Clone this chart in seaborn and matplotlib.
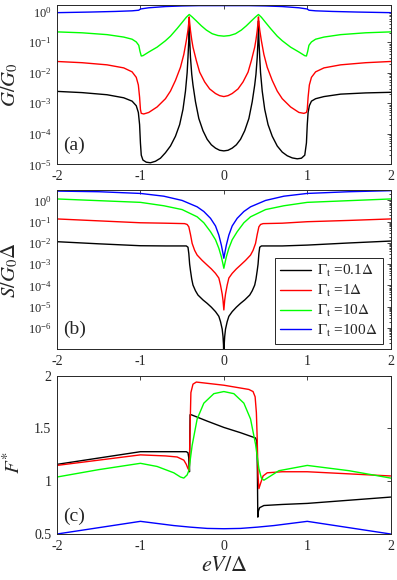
import numpy as np
import pandas as pd
import matplotlib
matplotlib.use("Agg")
import matplotlib.pyplot as plt
import seaborn as sns
from matplotlib.ticker import LogLocator, NullFormatter

# ---------------- data ----------------
gammas = ["0.1", "1", "10", "100"]
colors = ["#000000", "#ff0000", "#00ff00", "#0000ff"]
legend_labels = [r"$\Gamma_{\rm t}$ =0.1$\Delta$", r"$\Gamma_{\rm t}$ =1$\Delta$",
                 r"$\Gamma_{\rm t}$ =10$\Delta$", r"$\Gamma_{\rm t}$ =100$\Delta$"]
xticks = [-2, -1, 0, 1, 2]
xtick_labels = ["-2", "-1", "0", "1", "2"]

# panel (a): log10(G/G0)
a_x_k = [-2.0, -1.7, -1.4, -1.2, -1.1, -1.05, -1.025, -1.01, -1.0, -0.99, -0.97, -0.93, -0.88, -0.82, -0.76, -0.7, -0.64, -0.58, -0.53, -0.49, -0.46, -0.44, -0.43, -0.42, -0.415, -0.41, -0.40, -0.385, -0.37, -0.34, -0.3, -0.25, -0.2, -0.15, -0.1, -0.05, 0.0,
         0.05, 0.1, 0.15, 0.2, 0.25, 0.3, 0.34, 0.37, 0.385, 0.40, 0.41, 0.415, 0.42, 0.43, 0.44, 0.46, 0.49, 0.53, 0.58, 0.64, 0.7, 0.76, 0.82, 0.88, 0.93, 0.97, 0.99, 1.0, 1.01, 1.025, 1.05, 1.1, 1.2, 1.4, 1.7, 2.0]
a_y_k = [-2.61, -2.65, -2.72, -2.82, -2.93, -3.08, -3.3, -3.7, -4.3, -4.7, -4.86, -4.93, -4.95, -4.9, -4.8, -4.62, -4.4, -4.08, -3.7, -3.2, -2.6, -2.0, -1.5, -0.9, -0.3, -0.9, -1.5, -2.05, -2.4, -2.95, -3.5, -3.9, -4.18, -4.36, -4.47, -4.54, -4.56,
         -4.54, -4.47, -4.36, -4.18, -3.9, -3.5, -2.95, -2.4, -2.05, -1.5, -0.9, -0.3, -0.9, -1.5, -2.0, -2.6, -3.2, -3.7, -4.08, -4.4, -4.6, -4.72, -4.79, -4.82, -4.8, -4.7, -4.3, -3.7, -3.3, -3.08, -2.93, -2.85, -2.78, -2.7, -2.66, -2.64]
a_x_r = [-2.0, -1.7, -1.4, -1.2, -1.1, -1.05, -1.025, -1.01, -1.0, -0.99, -0.96, -0.9, -0.8, -0.7, -0.64, -0.58, -0.52, -0.48, -0.45, -0.43, -0.42, -0.415, -0.41, -0.40, -0.385, -0.37, -0.33, -0.29, -0.23, -0.17, -0.1, -0.05, 0.0,
         0.05, 0.1, 0.17, 0.23, 0.29, 0.33, 0.37, 0.385, 0.40, 0.41, 0.415, 0.42, 0.43, 0.45, 0.48, 0.52, 0.58, 0.64, 0.7, 0.8, 0.9, 0.96, 0.99, 1.0, 1.01, 1.025, 1.05, 1.1, 1.2, 1.4, 1.7, 2.0]
a_y_r = [-1.63, -1.67, -1.74, -1.84, -1.97, -2.15, -2.4, -2.8, -3.2, -3.33, -3.35, -3.3, -3.12, -2.85, -2.6, -2.25, -1.82, -1.4, -0.95, -0.6, -0.35, -0.17, -0.35, -0.62, -0.92, -1.16, -1.6, -1.98, -2.3, -2.53, -2.68, -2.75, -2.78,
         -2.75, -2.68, -2.53, -2.3, -1.98, -1.6, -1.16, -0.92, -0.62, -0.35, -0.17, -0.35, -0.6, -0.95, -1.4, -1.82, -2.25, -2.6, -2.85, -3.12, -3.3, -3.33, -3.3, -3.2, -2.8, -2.4, -2.15, -1.97, -1.84, -1.74, -1.67, -1.63]
a_x_g = [-2.0, -1.7, -1.4, -1.2, -1.1, -1.05, -1.02, -1.005, -0.99, -0.97, -0.9, -0.8, -0.7, -0.64, -0.56, -0.5, -0.45, -0.415, -0.38, -0.33, -0.27, -0.21, -0.14, -0.07, 0.0,
         0.07, 0.14, 0.21, 0.27, 0.33, 0.38, 0.415, 0.45, 0.5, 0.56, 0.64, 0.7, 0.8, 0.9, 0.97, 0.99, 1.005, 1.02, 1.05, 1.1, 1.2, 1.4, 1.7, 2.0]
a_y_g = [-0.66, -0.69, -0.75, -0.83, -0.9, -0.99, -1.1, -1.3, -1.45, -1.44, -1.32, -1.16, -0.95, -0.8, -0.55, -0.35, -0.18, -0.09, -0.17, -0.3, -0.46, -0.6, -0.72, -0.78, -0.8,
         -0.78, -0.72, -0.6, -0.46, -0.3, -0.17, -0.09, -0.18, -0.35, -0.55, -0.8, -0.95, -1.16, -1.32, -1.44, -1.45, -1.3, -1.1, -0.99, -0.9, -0.83, -0.75, -0.69, -0.66]
a_x_b = [-2.0, -1.6, -1.3, -1.1, -1.02, -1.0, -0.9, -0.7, -0.5, -0.3, 0.0, 0.3, 0.5, 0.7, 0.9, 1.0, 1.02, 1.1, 1.3, 1.6, 2.0]
a_y_b = [-0.03, -0.01, 0.01, 0.03, 0.05, 0.09, 0.13, 0.17, 0.19, 0.2, 0.2, 0.2, 0.19, 0.17, 0.13, 0.09, 0.05, 0.03, 0.01, -0.01, -0.03]

# panel (b): log10(S/G0 Delta)
b_x_k = [-2.0, -1.5, -1.0, -0.7, -0.45, -0.43, -0.42, -0.41, -0.40, -0.385, -0.37, -0.34, -0.31, -0.25, -0.2, -0.15, -0.1, -0.06, -0.04, -0.02, -0.01, -0.004, 0.0,
         0.004, 0.01, 0.02, 0.04, 0.06, 0.1, 0.15, 0.2, 0.25, 0.31, 0.34, 0.37, 0.385, 0.40, 0.41, 0.42, 0.43, 0.45, 0.7, 1.0, 1.5, 2.0]
b_y_k = [-1.94, -2.04, -2.13, -2.14, -2.14, -2.2, -2.5, -3.0, -3.3, -3.7, -3.98, -4.25, -4.45, -4.68, -4.84, -5.02, -5.23, -5.45, -5.7, -6.05, -6.4, -6.8, -8.0,
         -6.8, -6.4, -6.05, -5.7, -5.45, -5.23, -5.02, -4.84, -4.68, -4.45, -4.25, -3.98, -3.7, -3.3, -3.0, -2.5, -2.2, -2.14, -2.14, -2.10, -2.0, -1.91]
b_x_r = [-2.0, -1.5, -1.0, -0.7, -0.47, -0.44, -0.42, -0.40, -0.38, -0.35, -0.32, -0.26, -0.2, -0.15, -0.1, -0.06, -0.04, -0.02, -0.01, 0.0,
         0.01, 0.02, 0.04, 0.06, 0.1, 0.15, 0.2, 0.26, 0.32, 0.35, 0.38, 0.40, 0.42, 0.44, 0.47, 0.7, 1.0, 1.5, 2.0]
b_y_r = [-0.87, -0.96, -1.05, -1.07, -1.09, -1.13, -1.24, -1.6, -2.02, -2.35, -2.57, -2.82, -3.04, -3.22, -3.43, -3.65, -3.98, -4.4, -4.7, -5.15,
         -4.7, -4.4, -3.98, -3.65, -3.43, -3.22, -3.04, -2.82, -2.57, -2.35, -2.02, -1.6, -1.24, -1.13, -1.09, -1.07, -1.0, -0.94, -0.87]
b_x_g = [-2.0, -1.5, -1.0, -0.72, -0.5, -0.32, -0.24, -0.16, -0.1, -0.06, -0.03, -0.01, 0.0, 0.01, 0.03, 0.06, 0.1, 0.16, 0.24, 0.32, 0.5, 0.72, 1.0, 1.5, 2.0]
b_y_g = [0.07, -0.01, -0.09, -0.25, -0.43, -0.77, -1.05, -1.47, -1.85, -2.25, -2.65, -3.0, -3.19, -3.0, -2.65, -2.25, -1.85, -1.47, -1.05, -0.77, -0.43, -0.25, -0.09, -0.01, 0.07]
b_x_b = [-2.0, -1.5, -1.0, -0.72, -0.5, -0.32, -0.24, -0.16, -0.1, -0.06, -0.03, -0.01, 0.0, 0.01, 0.03, 0.06, 0.1, 0.16, 0.24, 0.32, 0.5, 0.72, 1.0, 1.5, 2.0]
b_y_b = [0.44, 0.41, 0.33, 0.2, 0.0, -0.3, -0.52, -0.84, -1.2, -1.63, -2.1, -2.5, -2.72, -2.5, -2.1, -1.63, -1.2, -0.84, -0.52, -0.3, 0.0, 0.2, 0.33, 0.41, 0.46]

# panel (c): F*
c_x_k = [-2.0, -1.5, -1.0, -0.7, -0.45, -0.43, -0.42, -0.412, -0.405, -0.39, -0.2, 0.0, 0.2, 0.38, 0.395, 0.402, 0.407, 0.415, 0.43, 0.48, 0.7, 1.0, 1.5, 2.0]
c_y_k = [1.16, 1.22, 1.28, 1.28, 1.28, 1.27, 1.22, 1.09, 1.63, 1.63, 1.57, 1.51, 1.46, 1.41, 1.38, 1.1, 0.66, 0.72, 0.75, 0.77, 0.78, 0.79, 0.82, 0.85]
c_x_r = [-2.0, -1.5, -1.0, -0.7, -0.56, -0.48, -0.45, -0.43, -0.415, -0.405, -0.395, -0.37, -0.33, 0.0, 0.3, 0.35, 0.375, 0.39, 0.40, 0.41, 0.42, 0.44, 0.47, 0.52, 0.7, 1.0, 1.5, 2.0]
c_y_r = [1.15, 1.2, 1.25, 1.24, 1.23, 1.2, 1.16, 1.12, 1.1, 1.5, 1.84, 1.92, 1.94, 1.91, 1.87, 1.85, 1.8, 1.65, 1.4, 1.05, 0.93, 0.98, 1.05, 1.08, 1.09, 1.09, 1.07, 1.05]
c_x_g = [-2.0, -1.5, -1.0, -0.8, -0.6, -0.52, -0.48, -0.44, -0.42, -0.38, -0.32, -0.24, -0.12, 0.0, 0.12, 0.24, 0.32, 0.38, 0.42, 0.45, 0.48, 0.52, 0.66, 1.0, 1.5, 2.0]
c_y_g = [1.04, 1.11, 1.17, 1.14, 1.08, 1.04, 1.03, 1.06, 1.10, 1.34, 1.59, 1.74, 1.83, 1.85, 1.83, 1.74, 1.59, 1.35, 1.12, 1.03, 1.01, 1.03, 1.10, 1.15, 1.10, 1.03]
c_x_b = [-2.0, -1.5, -1.0, -0.8, -0.6, -0.4, -0.2, 0.0, 0.2, 0.4, 0.6, 0.8, 1.0, 1.5, 2.0]
c_y_b = [0.50, 0.56, 0.62, 0.60, 0.58, 0.565, 0.553, 0.55, 0.553, 0.565, 0.58, 0.60, 0.62, 0.56, 0.50]


def frame(xs, ys, log=False):
    parts = []
    for g, x, y in zip(gammas, xs, ys):
        y = np.asarray(y, float)
        parts.append(pd.DataFrame({"x": x, "y": 10 ** y if log else y, "curve": g}))
    return pd.concat(parts, ignore_index=True)


df_a = frame([a_x_k, a_x_r, a_x_g, a_x_b], [a_y_k, a_y_r, a_y_g, a_y_b], log=True)
df_b = frame([b_x_k, b_x_r, b_x_g, b_x_b], [b_y_k, b_y_r, b_y_g, b_y_b], log=True)
df_c = frame([c_x_k, c_x_r, c_x_g, c_x_b], [c_y_k, c_y_r, c_y_g, c_y_b])

# ---------------- style ----------------
sns.set_theme(style="white")
plt.rcParams["font.family"] = ["Liberation Serif", "DejaVu Serif"]
plt.rcParams["mathtext.fontset"] = "stix"
plt.rcParams["axes.unicode_minus"] = False
AX = "#262626"

fig = plt.figure(figsize=(3.97, 5.80), dpi=100)
W = 0.8405
ax_a = fig.add_axes([0.1436, 0.7167, W, 0.2741])
ax_b = fig.add_axes([0.1436, 0.3978, W, 0.2741])
ax_c = fig.add_axes([0.1436, 0.0793, W, 0.2729])

for ax, df in ((ax_a, df_a), (ax_b, df_b), (ax_c, df_c)):
    sns.lineplot(data=df, x="x", y="y", hue="curve", hue_order=gammas,
                 palette=colors, sort=False, estimator=None, legend=False,
                 linewidth=1.0, ax=ax)
    ax.set_xlim(-2, 2)
    ax.set_xticks(xticks)
    ax.set_xticklabels(xtick_labels)
    for s in ax.spines.values():
        s.set_color(AX)
        s.set_linewidth(0.7)
    ax.tick_params(which="both", direction="in", top=True, right=True,
                   color=AX, labelcolor=AX, width=0.6)
    ax.tick_params(axis="x", labelsize=10)
    ax.tick_params(axis="y", labelsize=9)
    ax.tick_params(which="major", length=3.2, pad=4)
    ax.tick_params(which="minor", length=1.7)
    ax.set_xlabel("")

for ax, lo, hi, ticks in ((ax_a, 1e-5, 10 ** 0.21, [10.0 ** k for k in range(-5, 1)]),
                          (ax_b, 1e-7, 3.0, [10.0 ** k for k in range(-6, 1)])):
    ax.set_yscale("log")
    ax.set_ylim(lo, hi)
    ax.set_yticks(ticks)
    ax.yaxis.set_minor_locator(LogLocator(base=10, subs=np.arange(2, 10), numticks=40))
    ax.yaxis.set_minor_formatter(NullFormatter())

ax_c.set_ylim(0.5, 2)
ax_c.set_yticks([0.5, 1, 1.5, 2])
ax_c.set_yticklabels(["0.5", "1", "1.5", "2"])
ax_c.tick_params(axis="y", labelsize=10)

ax_a.set_ylabel(r"$G/G_0$", fontsize=15, color=AX)
ax_b.set_ylabel(r"$S/G_0\Delta$", fontsize=15, color=AX)
ax_c.set_ylabel(r"$F^{*}$", fontsize=15, color=AX)
ax_a.yaxis.set_label_coords(-0.11, 0.5)
ax_b.yaxis.set_label_coords(-0.11, 0.5)
ax_c.yaxis.set_label_coords(-0.098, 0.45)
ax_c.set_xlabel(r"$eV/\Delta$", fontsize=16, color=AX)
ax_c.xaxis.set_label_coords(0.5, -0.145)

for ax, lab, yy in ((ax_a, "(a)", 0.12), (ax_b, "(b)", 0.128), (ax_c, "(c)", 0.109)):
    ax.text(0.018, yy, lab, transform=ax.transAxes, fontsize=14, color=AX,
            ha="left", va="center")

leg = ax_b.legend(ax_b.get_lines()[:4], legend_labels, loc="lower right",
                  bbox_to_anchor=(1 - 8 / 334, 5 / 159), borderaxespad=0,
                  fontsize=11, handlelength=2.0, handletextpad=0.4,
                  labelspacing=0.25, borderpad=0.35, fancybox=False,
                  framealpha=1, edgecolor=AX)
leg.get_frame().set_linewidth(0.7)

fig.savefig("out.png", dpi=100)
